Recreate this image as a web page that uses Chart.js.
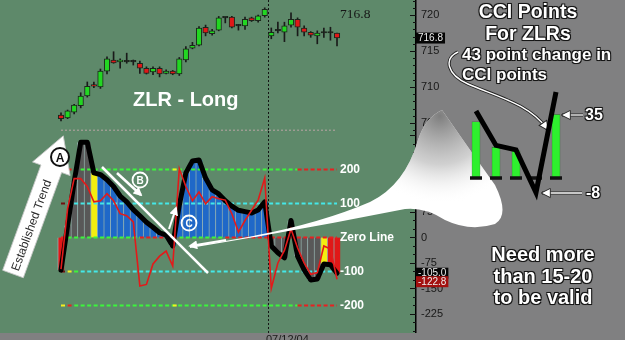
<!DOCTYPE html>
<html lang="en">
<head>
<meta charset="utf-8">
<title>ZLR - Long</title>
<script src="https://cdn.jsdelivr.net/npm/chart.js@4.4.1/dist/chart.umd.min.js"></script>
<style>
  html, body { margin: 0; padding: 0; }
  body { width: 625px; height: 340px; overflow: hidden; position: relative;
         background: #808081; font-family: "Liberation Sans", Arial, sans-serif; }
  .pane { position: absolute; }
  #pricePane { left: 0; top: 0; width: 458px; height: 131px; }
  #cciPane { left: 0; top: 131px; width: 458px; height: 202px; }
  #insetPane { left: 466px; top: 80px; width: 100px; height: 125px; }
  #deco { position: absolute; left: 0; top: 0; }
  .lbl { position: absolute; white-space: nowrap; }
  .ol { color: #fff; font-weight: bold;
        text-shadow: 1px 1px 0 #161616, -1px -1px 0 #161616, 1px -1px 0 #161616, -1px 1px 0 #161616, 0 0 2px #000; }
</style>
</head>
<body>
<div class="pane" id="pricePane"><canvas id="priceCanvas"></canvas></div>
<div class="pane" id="cciPane"><canvas id="cciCanvas"></canvas></div>

<svg id="deco" width="625" height="340" xmlns="http://www.w3.org/2000/svg">
  <defs>
    <marker id="headW" viewBox="0 0 10 10" refX="8" refY="5" markerWidth="9" markerHeight="9"
            orient="auto" markerUnits="userSpaceOnUse"><path d="M0,0 L10,5 L0,10 z" fill="#fff"/></marker>
    <marker id="headO" viewBox="0 0 12 12" refX="9" refY="6" markerWidth="11" markerHeight="11"
            orient="auto" markerUnits="userSpaceOnUse"><path d="M1,1 L11,6 L1,11 z" fill="#fff" stroke="#222" stroke-width="1"/></marker>
    <radialGradient id="shade" cx="440" cy="116" r="88" gradientUnits="userSpaceOnUse">
      <stop offset="0" stop-color="#777" stop-opacity="0.95"/>
      <stop offset="0.55" stop-color="#aaa" stop-opacity="0.55"/>
      <stop offset="1" stop-color="#fff" stop-opacity="0"/>
    </radialGradient>
  </defs>

  <!-- zoom horn from the zero-line cross to the inset -->
  <path d="M190,246 Q300,232 370,202 Q405,185 418,140 Q425,118 442,110 Q470,150 495,185
        Q510,215 495,224 Q470,232 445,220 Q425,207 405,209 Q300,230 190,248 Z" fill="#fff"/>
  <path d="M190,246 Q300,232 370,202 Q405,185 418,140 Q425,118 442,110 Q470,150 495,185
        Q510,215 495,224 Q470,232 445,220 Q425,207 405,209 Q300,230 190,248 Z" fill="url(#shade)"/>

  <!-- established trend arrow -->
  <g transform="translate(13,274) rotate(-70)">
    <polygon points="0,-11 112,-11 112,-20 147,0 112,20 112,11 0,11" fill="#fff" stroke="#c8c8c8" stroke-width="0.8"/>
    <text x="4" y="4.5" font-size="12" fill="#2a2a2a" font-family="Liberation Sans, Arial, sans-serif">Established Trend</text>
  </g>
  <circle cx="60" cy="157" r="9" fill="#fff" stroke="#111" stroke-width="2"/>
  <text x="60" y="161.5" text-anchor="middle" font-size="12" font-weight="bold" fill="#111"
        font-family="Liberation Sans, Arial, sans-serif">A</text>

  <!-- B: the falling CCI trend line -->
  <line x1="102" y1="167" x2="208" y2="273" stroke="#fff" stroke-width="2.5"/>
  <line x1="117" y1="173" x2="141" y2="195" stroke="#fff" stroke-width="2.5" marker-end="url(#headW)"/>
  <circle cx="140" cy="180" r="7.5" fill="none" stroke="#fff" stroke-width="1.8"/>
  <text x="140" y="184" text-anchor="middle" font-size="10" font-weight="bold" fill="#fff"
        font-family="Liberation Sans, Arial, sans-serif">B</text>

  <!-- C: the turn back up -->
  <line x1="169" y1="229" x2="176" y2="208" stroke="#fff" stroke-width="2" marker-end="url(#headW)"/>
  <circle cx="189" cy="223" r="7.5" fill="none" stroke="#fff" stroke-width="1.8"/>
  <text x="189" y="227" text-anchor="middle" font-size="10" font-weight="bold" fill="#fff"
        font-family="Liberation Sans, Arial, sans-serif">C</text>
  <line x1="226" y1="240" x2="190" y2="246" stroke="#fff" stroke-width="2" marker-end="url(#headW)"/>

  <!-- right panel pointers -->
  <path d="M458,52 C444,58 446,74 468,84 C495,96 530,104 547,129" fill="none" stroke="#222" stroke-width="3.2"/>
  <path d="M458,52 C444,58 446,74 468,84 C495,96 530,104 547,129" fill="none" stroke="#fff" stroke-width="1.4" marker-end="url(#headO)"/>
  <line x1="583" y1="115" x2="562" y2="115" stroke="#222" stroke-width="3"/>
  <line x1="583" y1="115" x2="563" y2="115" stroke="#fff" stroke-width="1.3" marker-end="url(#headO)"/>
  <line x1="582" y1="193" x2="542" y2="193" stroke="#222" stroke-width="3"/>
  <line x1="582" y1="193" x2="543" y2="193" stroke="#fff" stroke-width="1.3" marker-end="url(#headO)"/>
</svg>

<div class="pane" id="insetPane"><canvas id="insetCanvas"></canvas></div>

<div class="lbl" style="left:133px;top:87px;font-size:20px;line-height:24px;color:#fff;font-weight:bold;">ZLR - Long</div>
<div class="lbl" style="left:340px;top:6px;font-size:13.5px;line-height:16px;color:#161616;font-family:'Liberation Serif',serif;">716.8</div>
<div class="lbl" style="left:266px;top:333px;font-size:11px;line-height:13px;color:#1a1a1a;">07/12/04</div>
<div class="lbl ol" style="left:440px;top:0;width:176px;text-align:center;font-size:19.5px;line-height:22px;">CCI Points<br>For ZLRs</div>
<div class="lbl ol" style="left:462px;top:45px;font-size:17px;line-height:19.5px;">43 point change in<br>CCI points</div>
<div class="lbl ol" style="left:585px;top:106px;font-size:16px;line-height:18px;">35</div>
<div class="lbl ol" style="left:586px;top:184px;font-size:16px;line-height:18px;">-8</div>
<div class="lbl ol" style="left:443px;top:244px;width:200px;text-align:center;font-size:20px;line-height:21.5px;">Need more<br>than 15-20<br>to be valid</div>

<script>
/* ZLR - Long: daily candles with CCI panel and the "CCI points" inset. */

// ---- price bars (one per session) ----
var OPEN  = [706.1, 705.7, 706.5, 707.4, 708.75, 710.35, 710.0, 712.2, 713.75, 713.5, 713.5, 713.5, 713.3, 712.6, 712.1,
             712.6, 711.9, 712.2, 711.8, 713.75, 715.4, 715.8, 718.3, 717.4, 717.9, 719.6, 719.7, 718.5, 718.5, 719.6,
             719.2, 719.9, 717.1, 717.8, 717.6, 718.6, 719.4, 718.2, 717.6, 717.1, 717.5, 717.5, 717.5];
var HIGH  = [706.4, 706.8, 707.6, 709.2, 710.7, 710.7, 712.5, 714.2, 714.9, 713.9, 714.7, 713.75, 713.6, 712.8, 712.8,
             712.8, 712.4, 712.3, 714.1, 715.6, 716.2, 718.4, 718.6, 718.0, 719.8, 719.7, 719.8, 718.7, 719.7, 719.7,
             720.0, 721.0, 718.2, 719.0, 719.0, 720.3, 719.6, 718.5, 717.7, 717.8, 718.2, 718.3, 717.5];
var LOW   = [705.3, 705.6, 706.25, 707.1, 708.6, 709.9, 709.8, 711.8, 713.3, 712.6, 713.3, 713.05, 711.9, 711.8, 711.7,
             711.4, 711.8, 711.7, 711.6, 713.5, 715.3, 715.7, 717.1, 717.2, 717.8, 718.9, 718.2, 717.9, 718.0, 719.1,
             719.0, 719.7, 716.7, 717.5, 716.3, 718.3, 717.1, 717.1, 716.9, 716.0, 716.9, 716.5, 715.7];
var CLOSE = [705.6, 706.7, 707.5, 708.75, 710.1, 710.1, 712.2, 713.9, 713.35, 713.75, 713.5, 713.5, 712.6, 711.9, 712.6,
             711.8, 712.2, 711.8, 713.9, 715.3, 715.8, 718.2, 717.5, 717.8, 719.6, 719.6, 718.3, 718.5, 719.4, 719.2,
             719.9, 720.8, 717.6, 717.8, 718.5, 719.4, 718.3, 717.6, 717.2, 717.5, 717.5, 717.5, 716.8];
var PRICE_LEVEL = 704.0;                 // dotted level at the foot of the price pane
var DAY_BREAK = 31.5;                    // session divider between bar 31 and bar 32

// ---- CCI panel ----
var CCI_SLOW = [-96, 35, 163, 280, 280, 190, 185, 170, 150, 122, 105, 82, 64, 45, 30, 14, 7, -25, 95, 190, 225, 228,
                175, 140, 128, 108, 92, 80, 76, 72, 81, 105, -25, -45, -60, 50, -55, -95, -125, -122, -78, -80, -105];
var CCI_FAST = [-93, 84, 173, 173, 150, 105, 108, 129, 108, 70, 64, 46, -143, -138, -78, -55, -40, -84, 202, 150, 108,
                134, 99, 120, 114, 110, 70, 16, 50, 80, 110, 175, -150, -75, -38, 25, -30, -75, -108, -103, -25, -34, -122.8];
// histogram state per bar: r = red, n = neutral grey, y = yellow, b = blue trend
var HIST_STATE = ("r" + "nnnn" + "y" + "b".repeat(26) + "n".repeat(8) + "y" + "rr").split("");
var LEVELS = [200, 100, 0, -100, -200];
var LEVEL_TEXT = ["200", "100", "Zero Line", "-100", "-200"];
// dash colour per bar segment: g green, c cyan, r red, y yellow, d dark red
var LEVEL_STATE = [
  ("yr" + "g".repeat(15) + "y" + "g".repeat(18) + "r".repeat(7)).split(""),
  ("d" + "c".repeat(42)).split(""),
  ("r" + "g".repeat(11) + "r".repeat(6) + "g".repeat(7) + "r".repeat(18)).split(""),
  ("dyg" + "c".repeat(40)).split(""),
  ("yr" + "g".repeat(15) + "y" + "g".repeat(18) + "r".repeat(7)).split("")
];

// ---- axis tick labels ----
var PRICE_TICKS = [705, 710, 715, 720];
var CCI_TICKS = [-225, -150, -75, 0, 75, 150, 225, 300];

// ---- "CCI Points for ZLRs" inset ----
var INSET_CATS = ["1", "2", "3", "4", "5"];
var INSET_BARS = [31, 17, 15, null, 35];
var INSET_LINE = [37, 18, 15.5, -8, 47.5];
var INSET_BASE = [0, 0, 0, 0, 0];

// ---- layout / style ----
var X_MIN = -9.283, X_MAX = 54.02;       // bar 0 at x=61px, bar 42 at x=337px, axis at 416px
var PANE_BG = "#5e896a";
var TICK_FONT = { family: "Liberation Sans", size: 11 };
var COL = {
  up: "#22d622", down: "#e01818", flat: "#1a1a1a",
  g: "#3cf53c", c: "#44e8e8", r: "#e82020", y: "#f4f020", d: "#701010",
  hist: { r: "#e01818", n: "#585858", y: "#f4ee10", b: "#1f68c8" }
};

var IDX = CLOSE.map(function (_, i) { return i; });
function pts(arr) { return arr.map(function (v, i) { return { x: i, y: v }; }); }

function paneDecor(tickStep, majorStep, boxes) {
  return {
    id: "paneDecor",
    beforeDraw: function (chart) {
      var a = chart.chartArea, ctx = chart.ctx;
      ctx.save();
      ctx.fillStyle = PANE_BG;
      ctx.fillRect(a.left, a.top, a.right - a.left, a.bottom - a.top);
      ctx.restore();
    },
    beforeDatasetsDraw: function (chart) {
      var a = chart.chartArea, ctx = chart.ctx;
      var x = Math.round(chart.scales.x.getPixelForValue(DAY_BREAK)) + 0.5;
      ctx.save();
      ctx.strokeStyle = "#151515"; ctx.lineWidth = 1; ctx.setLineDash([2, 2]);
      ctx.beginPath(); ctx.moveTo(x, a.top); ctx.lineTo(x, a.bottom); ctx.stroke();
      ctx.restore();
    },
    afterDraw: function (chart) {
      var a = chart.chartArea, ctx = chart.ctx, y = chart.scales.y;
      ctx.save();
      ctx.strokeStyle = "#111"; ctx.lineWidth = 1;
      var start = Math.ceil(y.min / tickStep) * tickStep;
      for (var v = start; v <= y.max; v += tickStep) {
        var py = Math.round(y.getPixelForValue(v)) + 0.5;
        var len = (Math.abs(v % majorStep) < 1e-6) ? 6 : 3;
        ctx.beginPath(); ctx.moveTo(a.right - len, py); ctx.lineTo(a.right, py); ctx.stroke();
      }
      ctx.font = "10px 'Liberation Sans'"; ctx.textBaseline = "middle";
      var lastBottom = -1e9;
      boxes().forEach(function (b) {
        var py = Math.max(y.getPixelForValue(b.value), lastBottom + 3);
        var txt = b.value.toFixed(1), w = ctx.measureText(txt).width + 4;
        ctx.fillStyle = b.bg; ctx.fillRect(a.right, py - 5.5, w, 11);
        ctx.fillStyle = "#ececec"; ctx.fillText(txt, a.right + 2, py + 0.5);
        lastBottom = py + 5.5;
      });
      ctx.restore();
    }
  };
}

function yAxis(min, max, ticks) {
  return {
    position: "right", min: min, max: max,
    grid: { display: false, drawTicks: false },
    border: { display: true, color: "#000", width: 1.5 },
    ticks: { color: "#181818", font: TICK_FONT, padding: 5 },
    afterBuildTicks: function (s) { s.ticks = ticks.map(function (v) { return { value: v }; }); },
    afterFit: function (s) { s.width = 42; s.paddingTop = 0; s.paddingBottom = 0; }
  };
}

function baseOptions(yScale) {
  return {
    responsive: true, maintainAspectRatio: false, animation: false, events: [],
    layout: { padding: 0, autoPadding: false },
    plugins: { legend: { display: false }, tooltip: { enabled: false } },
    scales: {
      x: { type: "linear", min: X_MIN, max: X_MAX, display: false, offset: false },
      y: yScale
    }
  };
}

// ---- price pane ----
new Chart(document.getElementById("priceCanvas"), {
  type: "bar",
  data: {
    datasets: [
      {
        type: "line", label: "level", order: 2,
        data: pts(IDX.map(function () { return PRICE_LEVEL; })),
        borderColor: "rgba(205,170,178,0.85)", borderWidth: 1, borderDash: [2, 2], pointRadius: 0
      },
      {
        label: "range", order: 1, grouped: false, barThickness: 1,
        data: IDX.map(function (i) { return { x: i, y: [LOW[i], HIGH[i]] }; }),
        backgroundColor: "#1a1a1a"
      },
      {
        label: "body", order: 0, grouped: false, barThickness: 5.5, minBarLength: 1.5,
        data: IDX.map(function (i) { return { x: i, y: [OPEN[i], CLOSE[i]] }; }),
        backgroundColor: IDX.map(function (i) {
          return CLOSE[i] > OPEN[i] ? COL.up : (CLOSE[i] < OPEN[i] ? COL.down : COL.flat);
        }),
        borderColor: "#1c261c", borderWidth: 1, borderSkipped: false
      }
    ]
  },
  options: baseOptions(yAxis(703.889, 722.083, PRICE_TICKS)),
  plugins: [paneDecor(1, 5, function () {
    return [{ value: CLOSE[CLOSE.length - 1], bg: "#050505" }];
  })]
});

// ---- CCI pane ----
// each level line is split into one dataset per dash colour (gaps elsewhere)
var levelSets = [];
LEVELS.forEach(function (lv, k) {
  var st = LEVEL_STATE[k];
  var codes = st.filter(function (c, i) { return st.indexOf(c) === i; });
  codes.forEach(function (code) {
    var data = IDX.map(function (i) {
      var on = (i < IDX.length - 1 && st[i] === code) || (i > 0 && st[i - 1] === code);
      return { x: i, y: on ? lv : null };
    });
    levelSets.push({
      type: "line", label: LEVEL_TEXT[k] + " " + code, order: 2, data: data, spanGaps: false,
      borderColor: COL[code], borderWidth: 2.2, borderDash: [4, 2.5], pointRadius: 0
    });
  });
});

var levelText = {
  id: "levelText",
  afterDatasetsDraw: function (chart) {
    var ctx = chart.ctx, y = chart.scales.y;
    ctx.save();
    ctx.font = "bold 12px 'Liberation Sans'"; ctx.fillStyle = "#fff"; ctx.textBaseline = "middle";
    LEVELS.forEach(function (lv, k) { ctx.fillText(LEVEL_TEXT[k], 340, y.getPixelForValue(lv) + 0.5); });
    ctx.restore();
  }
};

new Chart(document.getElementById("cciCanvas"), {
  type: "bar",
  data: {
    datasets: [
      {
        type: "line", label: "CCI fast", order: 0, data: pts(CCI_FAST),
        borderColor: "#e31a1a", borderWidth: 1.6, pointRadius: 0
      },
      {
        type: "line", label: "CCI", order: 1, data: pts(CCI_SLOW),
        borderColor: "#000", borderWidth: 5, pointRadius: 0, borderJoinStyle: "round", borderCapStyle: "round"
      }
    ].concat(levelSets).concat([
      {
        label: "histogram", order: 3, grouped: false, barThickness: 6.6, data: pts(CCI_SLOW),
        backgroundColor: HIST_STATE.map(function (s) { return COL.hist[s]; }),
        borderColor: "rgba(215,228,255,0.45)", borderWidth: { left: 1, right: 0, top: 0, bottom: 0 }
      }
    ])
  },
  options: baseOptions(yAxis(-280.9, 313.2, CCI_TICKS)),
  plugins: [paneDecor(25, 75, function () {
    return [
      { value: CCI_SLOW[CCI_SLOW.length - 1], bg: "#050505" },
      { value: CCI_FAST[CCI_FAST.length - 1], bg: "#a3100f" }
    ];
  }), levelText]
});

// ---- inset ----
new Chart(document.getElementById("insetCanvas"), {
  type: "bar",
  data: {
    labels: INSET_CATS,
    datasets: [
      {
        type: "line", label: "CCI", order: 0, data: INSET_LINE,
        borderColor: "#000", borderWidth: 5, pointRadius: 0, borderJoinStyle: "miter"
      },
      {
        type: "scatter", label: "zero", order: 1, data: INSET_BASE,
        pointStyle: "line", pointRadius: 6, borderColor: "#111", pointBorderWidth: 3.5, showLine: false
      },
      {
        label: "bars", order: 2, data: INSET_BARS, barThickness: 8,
        backgroundColor: "#2ef02e", borderColor: "#2a5a2a", borderWidth: 0.5
      }
    ]
  },
  options: {
    responsive: true, maintainAspectRatio: false, animation: false, events: [],
    layout: { padding: 0, autoPadding: false },
    plugins: { legend: { display: false }, tooltip: { enabled: false } },
    scales: {
      x: { type: "category", display: false, offset: true },
      y: { min: -14.9, max: 54.1, display: false }
    }
  }
});
</script>
</body>
</html>
